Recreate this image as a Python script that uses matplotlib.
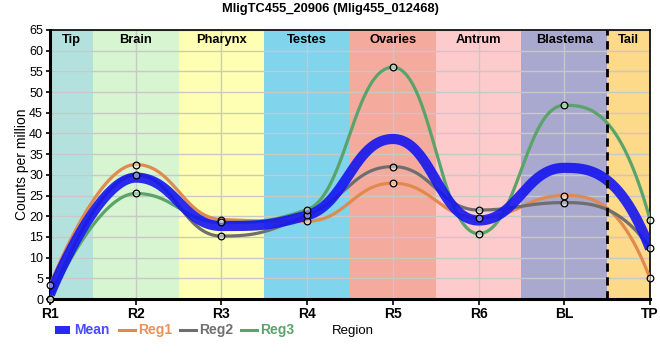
import numpy as np
import matplotlib
matplotlib.use("Agg")
import matplotlib.pyplot as plt
from matplotlib.patches import Rectangle
from matplotlib.lines import Line2D

plt.rcParams['font.family'] = ['Liberation Sans', 'DejaVu Sans']

title = "MligTC455_20906 (Mlig455_012468)"
regions = ["R1", "R2", "R3", "R4", "R5", "R6", "BL", "TP"]
reg1 = [3.3, 32.5, 19.2, 18.8, 28.0, 19.6, 25.0, 5.0]
reg2 = [0.0, 30.0, 15.2, 20.2, 32.0, 21.5, 23.3, 12.3]
reg3 = [0.0, 25.5, 18.5, 21.6, 56.0, 15.8, 46.8, 19.2]
mean = list(np.mean([reg1, reg2, reg3], axis=0))
series_names = ["Mean", "Reg1", "Reg2", "Reg3"]

band_names = ["Tip", "Brain", "Pharynx", "Testes", "Ovaries", "Antrum", "Blastema", "Tail"]
band_edges = [0, 0.5, 1.5, 2.5, 3.5, 4.5, 5.5, 6.5, 7]
band_colors = ["#b3e2de", "#d7f5d0", "#ffffb3", "#80d4eb", "#f4ab9d", "#fdcbcb", "#a9a8ce", "#fdd98a"]

W, H = 660, 360
AX_L, AX_R, AX_T, AX_B = 50, 650, 30, 299


def smooth_path(xv, yv, a=0.45, nseg=80):
    """Bezier smoothing: control points at +-a of spacing, slope limited so
    that no false extrema appear; open ends."""
    xv = np.asarray(xv, float); yv = np.asarray(yv, float)
    n = len(xv)
    left = [None] * n; right = [None] * n
    for i in range(1, n - 1):
        dxl = xv[i] - xv[i - 1]; dxr = xv[i + 1] - xv[i]
        m = (yv[i + 1] - yv[i - 1]) / (xv[i + 1] - xv[i - 1])
        ly = yv[i] - m * a * dxl
        ry = yv[i] + m * a * dxr
        lo, hi = min(yv[i - 1], yv[i]), max(yv[i - 1], yv[i])
        if ly < lo or ly > hi:
            ly = np.clip(ly, lo, hi)
            ry = 2 * yv[i] - ly
        lo, hi = min(yv[i + 1], yv[i]), max(yv[i + 1], yv[i])
        if ry < lo or ry > hi:
            ry = np.clip(ry, lo, hi)
            ly = 2 * yv[i] - ry
        left[i] = (xv[i] - a * dxl, ly)
        right[i] = (xv[i] + a * dxr, ry)
    t = np.linspace(0, 1, nseg)
    X, Y = [], []
    for i in range(n - 1):
        p0 = (xv[i], yv[i]); p3 = (xv[i + 1], yv[i + 1])
        if i == n - 2:
            # last segment: flat departure, steep arrival
            u = t
            X.append(p0[0] + (p3[0] - p0[0]) * u)
            Y.append(p0[1] + (p3[1] - p0[1]) * u ** 2.7)
            continue
        c1 = right[i] if right[i] is not None else p0
        c2 = left[i + 1]
        X.append((1 - t) ** 3 * p0[0] + 3 * (1 - t) ** 2 * t * c1[0] + 3 * (1 - t) * t ** 2 * c2[0] + t ** 3 * p3[0])
        Y.append((1 - t) ** 3 * p0[1] + 3 * (1 - t) ** 2 * t * c1[1] + 3 * (1 - t) * t ** 2 * c2[1] + t ** 3 * p3[1])
    return np.concatenate(X), np.concatenate(Y)


fig = plt.figure(figsize=(W / 100, H / 100), dpi=100)
ax = fig.add_axes([AX_L / W, 1 - AX_B / H, (AX_R - AX_L) / W, (AX_B - AX_T) / H])
ax.set_xlim(0, 7)
ax.set_ylim(0, 65)

for i, name in enumerate(band_names):
    ax.axvspan(band_edges[i], band_edges[i + 1], color=band_colors[i], zorder=0, lw=0)
    ax.text((band_edges[i] + band_edges[i + 1]) / 2, 62.6, name, ha="center", va="center",
            fontsize=9.3, fontweight="bold", zorder=5)

ax.set_yticks(np.arange(0, 66, 5))
ax.set_xticks(range(len(regions)))
ax.set_xticklabels(regions)
ax.grid(True, color="#c8c8c8", lw=1)
for gl in ax.get_xgridlines() + ax.get_ygridlines():
    gl.set_zorder(1)

ax.axvline(6.5, color="black", ls=(0, (3, 2)), lw=2, zorder=6)

x = np.arange(len(regions))
colors = {"Mean": "#1515f0", "Reg1": "#e08a4e", "Reg2": "#6e6e6e", "Reg3": "#5aa36a"}
for name, vals in [("Reg1", reg1), ("Reg2", reg2), ("Reg3", reg3)]:
    sx, sy = smooth_path(x, vals)
    ax.plot(sx, sy, color=colors[name], lw=2.3, zorder=3, solid_capstyle="round")
sx, sy = smooth_path(x, mean)
ax.plot(sx, sy, color=colors["Mean"], lw=7.3, alpha=0.9, zorder=4, solid_capstyle="butt")
for vals in [reg1, reg2, reg3]:
    ax.plot(x, vals, "o", ms=4.8, mfc=(1, 1, 1, 0.45), mec="black", mew=0.9, zorder=7, clip_on=False)

ax.tick_params(axis="both", labelsize=9, length=4, width=1.2, direction="out")
ax.tick_params(axis="x", labelsize=10, pad=2)
for lab in ax.get_xticklabels():
    lab.set_fontweight("bold")
ax.tick_params(axis="y", length=3, pad=2)
ax.set_ylabel("Counts per million", fontsize=10, labelpad=0)
for s in ["left", "bottom"]:
    ax.spines[s].set_linewidth(2.2)
for s in ["top", "right"]:
    ax.spines[s].set_linewidth(1.2)

fig.text(0.5, 1 - 9 / H, title, ha="center", va="center", fontsize=9.3, fontweight="bold")

# legend, drawn by hand in figure pixels
leg_y = 1 - 330 / H
text_colors = ["#4a4aff", "#e8915a", "#707070", "#5aa36a"]
starts = [55, 119, 180, 241]
for k, name in enumerate(series_names):
    x0 = starts[k]
    if name == "Mean":
        fig.add_artist(Rectangle((x0 / W, leg_y - 4 / H), 15 / W, 8 / H, transform=fig.transFigure,
                                 facecolor="#2a2af0", edgecolor="none"))
    else:
        fig.add_artist(Line2D([x0 / W, (x0 + 16) / W], [leg_y, leg_y], transform=fig.transFigure,
                              color=colors[name], lw=2.2))
    fig.text((x0 + 19) / W, leg_y, name, ha="left", va="center", fontsize=10, fontweight="bold",
             color=text_colors[k])
fig.text(332 / W, 1 - 331 / H, "Region", ha="left", va="center", fontsize=9.5)

fig.savefig("out.png", dpi=100)
